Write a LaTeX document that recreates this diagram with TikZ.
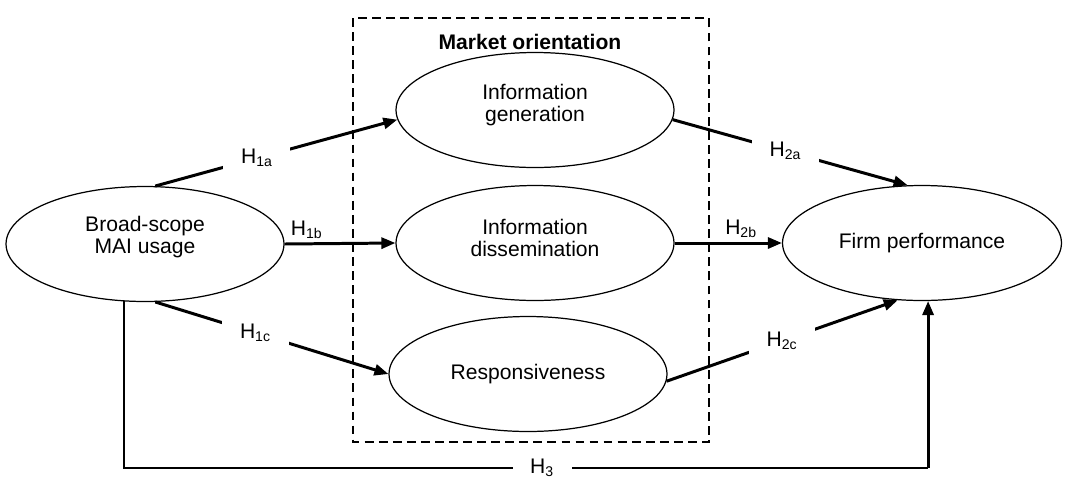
\documentclass[tikz,border=0pt]{standalone}
\usepackage{fontspec}
\setmainfont{Liberation Sans}
\usepackage{tikz}
\usetikzlibrary{shapes.geometric,arrows.meta,calc}

\begin{document}
\begin{tikzpicture}[x=0.02cm,y=-0.02cm,font=\fontsize{12}{12.5}\selectfont,
  >={Triangle[length=2.8mm,width=2.2mm]},
  cons/.style={ellipse,draw,line width=0.7pt,inner sep=0pt,minimum width=5.56cm,minimum height=2.3cm,align=center},
  twol/.style={align=center,yshift=0.1cm},
  arr/.style={->,line width=1.7pt},
  thin/.style={line width=0.8pt},
  hyp/.style={fill=white,inner xsep=10pt,inner ysep=4pt},
  hab/.style={above,inner sep=2pt},
  mobox/.style={draw,dashed,line width=1.1pt,dash pattern=on 5pt off 3pt}]
  \useasboundingbox (0,0) rectangle (1072,491);
  % constructs
  \node[cons,label={[twol,yshift=0.03cm]center:Broad-scope\\MAI usage}] (mai) at (145,244) {};
  \node[cons,label={[twol]center:Information\\generation}] (gen) at (535,110) {};
  \node[cons,label={[twol]center:Information\\dissemination}] (dis) at (535,243) {};
  \node[cons] (resp) at (528,374) {Responsiveness};
  \node[cons,minimum width=5.58cm] (perf) at (922,243) {Firm performance};
  % market orientation frame
  \draw[mobox] (353,18) rectangle (709,442);
  \node[font=\fontsize{12}{14}\selectfont\bfseries] (mo) at (530,42) {Market orientation};
  % hypotheses
  \draw[arr] (mai.80) -- node[hyp,pos=0.42]{H\textsubscript{1a}} (gen.184);
  \draw[arr] (mai.east) -- node[hab,pos=0.2]{H\textsubscript{1b}} (dis.west);
  \draw[arr] (mai.280) -- node[hyp,pos=0.43]{H\textsubscript{1c}} (resp.west);
  \draw[arr] (gen.356) -- node[hyp,pos=0.48]{H\textsubscript{2a}} (perf.104);
  \draw[arr] (dis.east) -- node[hab,pos=0.62]{H\textsubscript{2b}} (perf.west);
  \draw[arr] (resp.357) -- node[hyp,pos=0.5]{H\textsubscript{2c}} (perf.247);
  \coordinate (base) at (0,468);
  \coordinate (h3end) at (perf.276 |- base);
  \draw[thin] (mai.250) -- (mai.250 |- base) -- node[hyp,pos=0.52]{H\textsubscript{3}} (h3end);
  \draw[arr] (h3end) -- (perf.276);
\end{tikzpicture}
\end{document}
